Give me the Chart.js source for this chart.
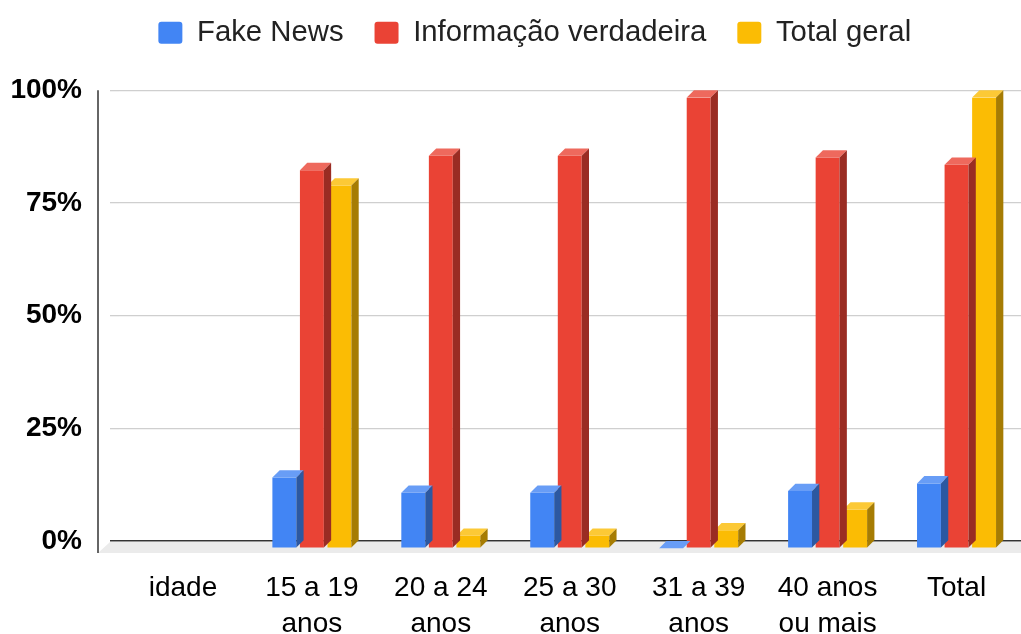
<!DOCTYPE html>
<html>
<head>
<meta charset="utf-8">
<script src="https://cdn.jsdelivr.net/npm/chart.js@4.4.1/dist/chart.umd.min.js"></script>
<style>
    html, body { margin: 0; padding: 0; background: #fff; overflow: hidden; }
    #wrap { width: 1021px; height: 634px; }
</style>
</head>
<body>
<div id="wrap"><canvas id="chart"></canvas></div>
<script>
// ---------------- DATA ----------------

const categories = [
    ["idade"],
    ["15 a 19", "anos"],
    ["20 a 24", "anos"],
    ["25 a 30", "anos"],
    ["31 a 39", "anos"],
    ["40 anos", "ou mais"],
    ["Total"]
];

const fakeNews       = [null, 15.7, 12.3, 12.3, 0, 12.7, 14.4];
const infoVerdadeira = [null, 83.9, 87.1, 87.1, 100, 86.7, 85.1];
const totalGeral     = [null, 80.5, 2.8, 2.8, 4.0, 8.6, 100];

const yTicks = [0, 25, 50, 75, 100];

const FONT = "'Liberation Sans', Arial, sans-serif";
const DEPTH = 7.3;


// ---------------- 3D LOOK ----------------

function shade(hex, f) {
    const n = parseInt(hex.slice(1), 16);
    let r = (n >> 16) & 255, g = (n >> 8) & 255, b = n & 255;
    if (f < 1) {
        r *= f; g *= f; b *= f;
    } else {
        const t = f - 1;
        r += (255 - r) * t; g += (255 - g) * t; b += (255 - b) * t;
    }
    return "rgb(" + Math.round(r) + "," + Math.round(g) + "," + Math.round(b) + ")";
}

const bars3d = {
    id: "bars3d",
    beforeDatasetsDraw(chart) {
        const { ctx, chartArea } = chart;
        const base = chart.scales.y.getPixelForValue(0);
        const axisX = chartArea.left - 20.5;

        ctx.save();
        // floor
        ctx.fillStyle = "#ebebeb";
        ctx.beginPath();
        ctx.moveTo(axisX, base + 12);
        ctx.lineTo(chart.width, base + 12);
        ctx.lineTo(chart.width, base + 1);
        ctx.lineTo(chartArea.left - 8.5, base + 1);
        ctx.closePath();
        ctx.fill();

        // y axis line
        ctx.strokeStyle = "#333";
        ctx.lineWidth = 1.5;
        ctx.beginPath();
        ctx.moveTo(axisX, chartArea.top);
        ctx.lineTo(axisX, base + 12);
        ctx.stroke();
        ctx.restore();
    },
    beforeDatasetDraw(chart) {
        chart.ctx.save();
        chart.ctx.translate(0, DEPTH);
    },
    afterDatasetDraw(chart, args) {
        const ctx = chart.ctx;
        ctx.restore();

        const ds = chart.data.datasets[args.index];
        const col = ds.backgroundColor;

        ctx.save();
        args.meta.data.forEach((bar, i) => {
            if (ds.data[i] == null) return;
            const { x, y, base, width } = bar.getProps(["x", "y", "base", "width"], true);
            const l = x - width / 2;
            const r = x + width / 2;
            const top = y + DEPTH;

            // top face
            ctx.fillStyle = shade(col, 1.2);
            ctx.beginPath();
            ctx.moveTo(l, top);
            ctx.lineTo(r, top);
            ctx.lineTo(r + DEPTH, y);
            ctx.lineTo(l + DEPTH, y);
            ctx.closePath();
            ctx.fill();

            // right side
            ctx.fillStyle = shade(col, 0.66);
            ctx.beginPath();
            ctx.moveTo(r, top);
            ctx.lineTo(r + DEPTH, y);
            ctx.lineTo(r + DEPTH, base);
            ctx.lineTo(r, base + DEPTH);
            ctx.closePath();
            ctx.fill();
        });
        ctx.restore();
    }
};


// ---------------- CHART ----------------

function barSet(label, data, color) {
    return {
        label: label,
        data: data,
        backgroundColor: color,
        borderWidth: 0,
        barPercentage: 0.868,
        categoryPercentage: 0.641
    };
}

new Chart(document.getElementById("chart"), {
    type: "bar",
    data: {
        labels: categories,
        datasets: [
            barSet("Fake News", fakeNews, "#4285F4"),
            barSet("Informação verdadeira", infoVerdadeira, "#EA4335"),
            barSet("Total geral", totalGeral, "#FBBC04")
        ]
    },
    plugins: [bars3d],
    options: {
        responsive: true,
        maintainAspectRatio: false,
        animation: false,
        layout: {
            padding: { left: 0, right: -48.5, top: -13, bottom: 0 }
        },
        plugins: {
            legend: {
                position: "top",
                labels: {
                    boxWidth: 24,
                    boxHeight: 22,
                    useBorderRadius: true,
                    borderRadius: 3,
                    padding: 31,
                    color: "#222",
                    font: { family: FONT, size: 29.3 }
                }
            },
            // empty spacer between legend and plot
            title: {
                display: true,
                text: "",
                weight: 500,
                padding: 0,
                font: { size: 33, lineHeight: 1 }
            },
            tooltip: { enabled: false }
        },
        scales: {
            x: {
                grid: { display: false, drawTicks: false },
                border: { display: false },
                ticks: {
                    color: "#000",
                    padding: 29,
                    autoSkip: false,
                    maxRotation: 0,
                    font: { family: FONT, size: 28, lineHeight: 1.29 }
                },
                afterFit: (scale) => { scale.height = 93; }
            },
            y: {
                min: 0,
                max: 100,
                afterBuildTicks: (scale) => {
                    scale.ticks = yTicks.map(v => ({ value: v }));
                },
                ticks: {
                    color: "#000",
                    padding: 28,
                    font: { family: FONT, size: 28, weight: "bold" },
                    callback: (v) => v + "%"
                },
                grid: {
                    color: (c) => c.tick && c.tick.value === 0 ? "#333" : "#cfcfcf",
                    lineWidth: (c) => c.tick && c.tick.value === 0 ? 1.5 : 1.3,
                    tickLength: 8.5
                },
                border: { display: false },
                afterFit: (scale) => { scale.width = 118.5; }
            },
            // empty right-hand axis, only keeps the plot edge where it belongs
            yRight: {
                position: "right",
                grid: { display: false, drawTicks: false },
                border: { display: false },
                ticks: { display: false },
                afterFit: (scale) => { scale.width = 34; }
            }
        }
    }
});
</script>
</body>
</html>
